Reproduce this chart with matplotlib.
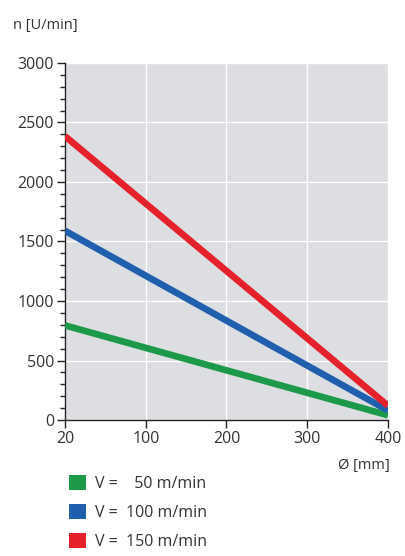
import numpy as np
import matplotlib
matplotlib.use("Agg")
import matplotlib.pyplot as plt
from matplotlib.patches import Patch
from matplotlib.ticker import MultipleLocator

plt.rcParams['font.family'] = ['Open Sans', 'DejaVu Sans']

# diameter [mm] at start and end of each line
diameters = [20, 400]
# speed [U/min] for each cutting speed
n_50 = [795, 40]
n_100 = [1590, 80]
n_150 = [2385, 120]

x_ticks = [20, 100, 200, 300, 400]
y_ticks = [0, 500, 1000, 1500, 2000, 2500, 3000]

labels = ["V =    50 m/min", "V =  100 m/min", "V =  150 m/min"]
colors = ["#1c9a4a", "#1f5fae", "#e5212b"]

# axis is drawn with 20 sitting where 0 would be
tick_pos = [0, 100, 200, 300, 400]


def xpos(d):
    return np.interp(d, x_ticks, tick_pos)


fig = plt.figure(figsize=(4.05, 5.56), dpi=100)
ax = fig.add_axes([0.1605, 0.2446, 0.7975, 0.6421])
ax.set_facecolor("#dcdee1")

for vals, col in zip([n_50, n_100, n_150], colors):
    ax.plot(xpos(diameters), vals, color=col, lw=4.8, solid_capstyle="butt", zorder=3)

ax.set_xlim(tick_pos[0], tick_pos[-1])
ax.set_ylim(0, 3000)
ax.set_xticks(tick_pos)
ax.set_xticklabels([str(t) for t in x_ticks])
ax.set_yticks(y_ticks)
ax.yaxis.set_minor_locator(MultipleLocator(100))

ax.grid(True, which="major", color="white", lw=1.0, zorder=1)
ax.set_axisbelow(True)

for s in ["top", "right"]:
    ax.spines[s].set_visible(False)
for s in ["left", "bottom"]:
    ax.spines[s].set_color("#222222")
    ax.spines[s].set_linewidth(1.0)

ax.tick_params(which="major", direction="out", length=6, width=1, colors="#222222",
               labelsize=11.5, labelcolor="#333333", pad=2)
ax.tick_params(which="minor", direction="out", length=3.5, width=1, colors="#222222")

fig.text(13 / 405, 1 - 26 / 556, "n [U/min]", fontsize=10.5, color="#333333", va="center", ha="left")
fig.text(390 / 405, 1 - 465 / 556, "Ø [mm]", fontsize=10.5, color="#333333", va="center", ha="right")

handles = [Patch(facecolor=c, edgecolor="none") for c in colors]
fig.legend(handles, labels, loc="upper left", bbox_to_anchor=(55 / 405, 1 - 461 / 556),
           frameon=False, fontsize=11.5, handlelength=1.05, handleheight=1.05,
           handletextpad=0.55, labelspacing=0.75, labelcolor="#333333")

fig.savefig("out.png", dpi=100, facecolor="white")
